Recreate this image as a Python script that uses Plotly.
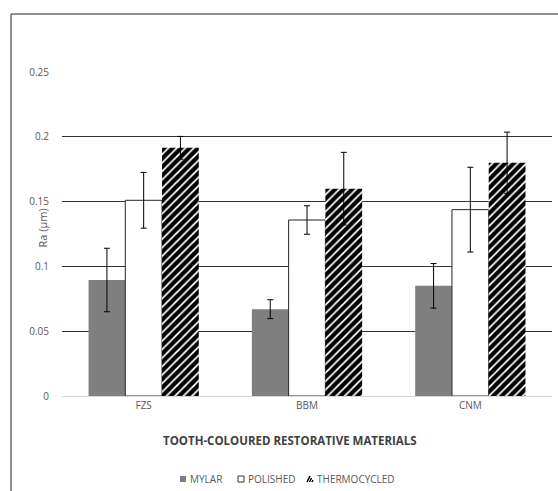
import plotly.graph_objects as go

categories = ["FZS", "BBM", "CNM"]
series_names = ["MYLAR", "POLISHED", "THERMOCYCLED"]
mylar = [0.0895, 0.067, 0.085]
mylar_err = [0.0245, 0.0073, 0.0172]
polished = [0.151, 0.1358, 0.1438]
polished_err = [0.0215, 0.011, 0.0327]
thermo = [0.1915, 0.160, 0.180]
thermo_err = [0.0088, 0.028, 0.0236]
y_ticks = [0, 0.05, 0.1, 0.15, 0.2, 0.25]

W, H = 558, 491
L, R, T, B = 62, 552, 72, 396  # plot area in pixels

def px_x(x):
    return (x - L) / (R - L)

def px_y(y):
    return (B - y) / (B - T)

err_style = dict(type="data", color="black", thickness=1, width=3)
fig = go.Figure()
fig.add_trace(go.Bar(x=categories, y=mylar, name=series_names[0],
                     marker=dict(color="#7f7f7f", line=dict(width=0)),
                     error_y=dict(array=mylar_err, **err_style)))
fig.add_trace(go.Bar(x=categories, y=polished, name=series_names[1],
                     marker=dict(color="white", line=dict(color="#262626", width=1)),
                     error_y=dict(array=polished_err, **err_style)))
fig.add_trace(go.Bar(x=categories, y=thermo, name=series_names[2],
                     marker=dict(color="white", line=dict(width=0),
                                 pattern=dict(shape="/", fgcolor="black", bgcolor="white",
                                              fgopacity=1, size=6, solidity=0.7)),
                     error_y=dict(array=thermo_err, **err_style)))

gray = "#595959"
font = "Open Sans"
fig.update_layout(
    width=W, height=H,
    margin=dict(l=L, r=W - R, t=T, b=H - B),
    paper_bgcolor="white", plot_bgcolor="white",
    barmode="group", bargap=0.325, bargroupgap=0,
    showlegend=False,
    font=dict(family=font, size=10, color=gray),
    xaxis=dict(showgrid=False, showline=True, linecolor="#d9d9d9", linewidth=1,
               ticks="", tickfont=dict(size=10, color=gray), zeroline=False),
    yaxis=dict(range=[0, 0.25], tickvals=y_ticks, showgrid=True, gridcolor="#333333",
               gridwidth=1, zeroline=False, showline=False, ticks="",
               ticklabelstandoff=12, tickfont=dict(size=10, color=gray)),
)

# axis titles
fig.add_annotation(text="Ra (μm)", xref="paper", yref="paper", x=px_x(32), y=px_y(228),
                   textangle=-90, showarrow=False, font=dict(size=11, color=gray, family=font))
fig.add_annotation(text="<b>TOOTH-COLOURED RESTORATIVE MATERIALS</b>", xref="paper", yref="paper",
                   x=px_x(290), y=px_y(450), showarrow=False,
                   font=dict(size=11.5, color="#404040", family=font))

# frame (left and top lines)
fig.add_shape(type="line", xref="paper", yref="paper", x0=px_x(11), x1=px_x(11),
              y0=px_y(14), y1=px_y(H + 2), line=dict(color="#222222", width=1))
fig.add_shape(type="line", xref="paper", yref="paper", x0=px_x(11), x1=px_x(W + 2),
              y0=px_y(14), y1=px_y(14), line=dict(color="#222222", width=1))

# custom legend
ly = 479
icons_x = [180, 238, 307]
text_x = [188, 246, 315]
fig.add_shape(type="rect", xref="paper", yref="paper",
              x0=px_x(icons_x[0]), x1=px_x(icons_x[0] + 6), y0=px_y(ly + 3), y1=px_y(ly - 3),
              fillcolor="#7f7f7f", line=dict(width=0))
fig.add_shape(type="rect", xref="paper", yref="paper",
              x0=px_x(icons_x[1]), x1=px_x(icons_x[1] + 6), y0=px_y(ly + 3), y1=px_y(ly - 3),
              fillcolor="white", line=dict(color="#333333", width=1))
for d in [0, 2.5, 5]:
    fig.add_shape(type="line", xref="paper", yref="paper",
                  x0=px_x(icons_x[2] + d), x1=px_x(icons_x[2] + d + 3 - d * 0.4),
                  y0=px_y(ly + 3), y1=px_y(ly - 3 + d * 0.8),
                  line=dict(color="black", width=1.5))
for name, tx in zip(series_names, text_x):
    fig.add_annotation(text=name, xref="paper", yref="paper", x=px_x(tx), y=px_y(ly),
                       xanchor="left", yanchor="middle", showarrow=False,
                       font=dict(size=10, color=gray, family=font))

fig.write_html("out.html", config={"displayModeBar": False},
               post_script="document.body.style.margin='0';document.body.style.overflow='hidden';")
